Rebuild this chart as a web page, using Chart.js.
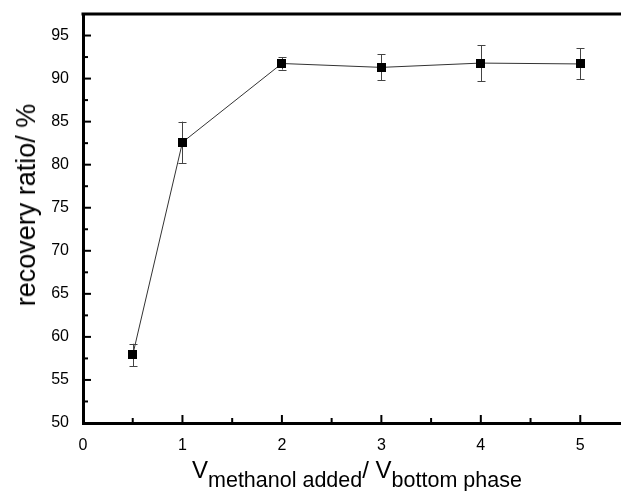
<!DOCTYPE html>
<html>
<head>
<meta charset="utf-8">
<script src="https://cdn.jsdelivr.net/npm/chart.js@4/dist/chart.umd.min.js"></script>
<style>
  html, body { margin: 0; padding: 0; background: #fff; overflow: hidden; }
  #wrap { position: relative; width: 621px; height: 491px; overflow: hidden; }
  #c { position: absolute; left: 0; top: 0; width: 630px; height: 491px; }
  .ttl { position: absolute; font-family: "Liberation Sans", Arial, sans-serif; color: #000; white-space: nowrap; }
  #ytitle { left: 26px; top: 205px; font-size: 27px; line-height: 30px; transform: translate(-50%, -50%) rotate(-90deg); }
  #xtitle { left: 192px; top: 455px; font-size: 24px; line-height: 30px; }
  #xtitle sub { font-size: 21.5px; vertical-align: -9px; line-height: 0; }
</style>
</head>
<body>
<div id="wrap">
  <canvas id="c" width="630" height="491"></canvas>
  <div class="ttl" id="ytitle">recovery ratio/ %</div>
  <div class="ttl" id="xtitle">V<sub>methanol added</sub>/ V<sub>bottom phase</sub></div>
</div>
<script>
const xValues = [0.5, 1, 2, 3, 4, 5];
const recovery = [57.9, 82.6, 91.75, 91.3, 91.8, 91.7];
const errors = [1.3, 2.4, 0.7, 1.5, 2.1, 1.8];
const xTickLabels = ['0', '1', '2', '3', '4', '5'];
const yTickLabels = ['50', '55', '60', '65', '70', '75', '80', '85', '90', '95'];

const points = xValues.map((x, i) => ({ x: x, y: recovery[i] }));

const framePlugin = {
  id: 'frame',
  afterDatasetsDraw(chart) {
    const ctx = chart.ctx;
    const xs = chart.scales.x, ys = chart.scales.y;
    const a = chart.chartArea;
    ctx.save();
    ctx.strokeStyle = '#444';
    ctx.lineWidth = 1;
    xValues.forEach((x, i) => {
      const px = Math.round(xs.getPixelForValue(x)) + 0.5;
      const top = ys.getPixelForValue(recovery[i] + errors[i]);
      const bot = ys.getPixelForValue(recovery[i] - errors[i]);
      ctx.beginPath();
      ctx.moveTo(px, top); ctx.lineTo(px, bot);
      ctx.moveTo(px - 4, Math.round(top) + 0.5); ctx.lineTo(px + 4, Math.round(top) + 0.5);
      ctx.moveTo(px - 4, Math.round(bot) + 0.5); ctx.lineTo(px + 4, Math.round(bot) + 0.5);
      ctx.stroke();
    });
    const meta = chart.getDatasetMeta(0);
    meta.data.forEach(el => {
      ctx.fillStyle = '#000';
      const s = 9;
      ctx.fillRect(Math.round(el.x - s / 2), Math.round(el.y - s / 2), s, s);
    });
    ctx.strokeStyle = '#000';
    ctx.lineWidth = 2;
    xs.ticks.forEach(t => {
      const px = xs.getPixelForValue(t.value);
      const major = Math.abs(t.value - Math.round(t.value)) < 1e-6;
      const len = major ? 8 : 5;
      ctx.beginPath();
      ctx.moveTo(px, a.bottom); ctx.lineTo(px, a.bottom - len);
      ctx.stroke();
    });
    ys.ticks.forEach(t => {
      const py = ys.getPixelForValue(t.value);
      const major = Math.abs(t.value / 5 - Math.round(t.value / 5)) < 1e-6;
      const len = major ? 8 : 5;
      ctx.beginPath();
      ctx.moveTo(a.left, py); ctx.lineTo(a.left + len, py);
      ctx.stroke();
    });
    ctx.lineWidth = 3;
    ctx.beginPath();
    ctx.moveTo(a.left - 1.5, a.top); ctx.lineTo(a.right, a.top);
    ctx.stroke();
    ctx.restore();
  }
};

new Chart(document.getElementById('c'), {
  type: 'scatter',
  data: {
    datasets: [{
      data: points,
      showLine: true,
      borderColor: '#333',
      borderWidth: 1,
      pointStyle: 'rect',
      pointRadius: 0,
      backgroundColor: '#000'
    }]
  },
  options: {
    responsive: false,
    maintainAspectRatio: false,
    animation: false,
    devicePixelRatio: 1,
    layout: { padding: { top: 14, right: 0, bottom: 0, left: 0 } },
    plugins: { legend: { display: false }, tooltip: { enabled: false } },
    scales: {
      x: {
        type: 'linear',
        min: 0, max: 5.5,
        afterFit(s) { s.height = 68; s.paddingLeft = 0; s.paddingRight = 0; },
        border: { display: true, color: '#000', width: 3 },
        grid: { display: false, drawTicks: false },
        ticks: {
          stepSize: 0.5,
          padding: 13,
          color: '#000',
          font: { family: '"Liberation Sans", Arial, sans-serif', size: 16 },
          maxRotation: 0,
          autoSkip: false,
          callback(v) {
            const i = xTickLabels.indexOf(String(v));
            return i >= 0 ? xTickLabels[i] : '';
          }
        }
      },
      y: {
        type: 'linear',
        min: 50, max: 97.5,
        afterFit(s) { s.width = 83; s.paddingTop = 0; s.paddingBottom = 0; },
        border: { display: true, color: '#000', width: 3 },
        grid: { display: false, drawTicks: false },
        ticks: {
          stepSize: 2.5,
          padding: 14,
          color: '#000',
          font: { family: '"Liberation Sans", Arial, sans-serif', size: 16 },
          autoSkip: false,
          callback(v) {
            const i = yTickLabels.indexOf(String(v));
            return i >= 0 ? yTickLabels[i] : '';
          }
        }
      }
    }
  },
  plugins: [framePlugin]
});
</script>
</body>
</html>
